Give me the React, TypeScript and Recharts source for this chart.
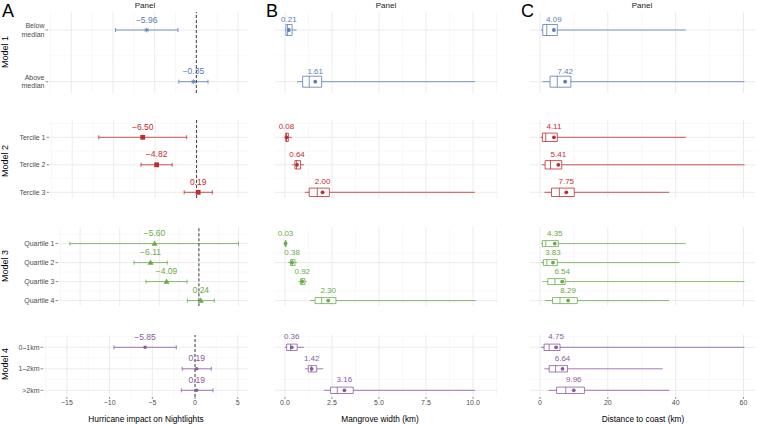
import React from "react";
import {
  ScatterChart,
  Scatter,
  XAxis,
  YAxis,
  CartesianGrid,
  ErrorBar,
  ReferenceLine,
  ReferenceArea,
} from "recharts";

// ---------------- DATA ----------------
const MODEL_NAMES = ["Model 1", "Model 2", "Model 3", "Model 4"];
const CATEGORIES = [
  ["Below\nmedian", "Above\nmedian"],
  ["Tercile 1", "Tercile 2", "Tercile 3"],
  ["Quartile 1", "Quartile 2", "Quartile 3", "Quartile 4"],
  ["0\u20131km", "1\u20132km", ">2km"],
];

// Panel A: hurricane impact estimates with confidence intervals
const IMPACT_ESTIMATE = [
  [-5.96, -0.35],
  [-6.5, -4.82, 0.19],
  [-5.6, -6.11, -4.09, 0.24],
  [-5.85, 0.19, 0.19],
];
const IMPACT_CI_LOW = [
  [-9.7, -2.1],
  [-11.8, -6.7, -1.5],
  [-16.3, -8.2, -6.7, -1.45],
  [-9.5, -1.5, -1.6],
];
const IMPACT_CI_HIGH = [
  [-2.2, 1.4],
  [-1.2, -2.95, 1.9],
  [5.0, -4.0, -1.5, 1.95],
  [-2.2, 1.9, 2.1],
];

// Panel B: mangrove width (km) box plots
const MANGROVE_MEAN = [[0.21, 1.61], [0.08, 0.64, 2.0], [0.03, 0.38, 0.92, 2.3], [0.36, 1.42, 3.16]];
const MANGROVE_MIN = [[0.0, 0.65], [0.0, 0.39, 1.06], [0.0, 0.16, 0.71, 1.33], [0.0, 1.06, 2.07]];
const MANGROVE_Q1 = [[0.05, 0.94], [0.04, 0.53, 1.29], [0.01, 0.3, 0.83, 1.6], [0.09, 1.24, 2.43]];
const MANGROVE_MEDIAN = [[0.14, 1.29], [0.08, 0.62, 1.72], [0.03, 0.38, 0.9, 1.95], [0.3, 1.4, 2.78]];
const MANGROVE_Q3 = [[0.38, 1.95], [0.18, 0.83, 2.36], [0.06, 0.53, 1.06, 2.71], [0.65, 1.69, 3.63]];
const MANGROVE_MAX = [[0.62, 10.1], [0.36, 1.01, 10.1], [0.1, 0.64, 1.15, 10.16], [1.01, 2.04, 10.1]];

// Panel C: distance to coast (km) box plots
const COAST_MEAN = [[4.09, 7.42], [4.11, 5.41, 7.75], [4.35, 3.83, 6.54, 8.29], [4.75, 6.64, 9.96]];
const COAST_MIN = [[0.3, 0.7], [0.2, 0.5, 1.3], [0.3, 0.3, 0.7, 1.5], [0.3, 1.3, 2.5]];
const COAST_Q1 = [[0.8, 2.95], [0.7, 1.5, 3.4], [0.7, 1.0, 2.3, 3.7], [1.2, 2.7, 4.9]];
const COAST_MEDIAN = [[2.0, 5.1], [1.7, 3.1, 5.7], [1.7, 2.0, 4.4, 5.9], [2.7, 4.6, 7.6]];
const COAST_Q3 = [[5.1, 9.1], [5.1, 6.4, 10.1], [5.4, 5.1, 7.4, 11.0], [5.9, 8.1, 13.1]];
const COAST_MAX = [[43, 60.3], [43, 60.3, 38.1], [43, 41.1, 60.3, 38.1], [60.3, 36.2, 38.1]];

// Tick values
const IMPACT_TICKS = [-15, -10, -5, 0, 5];
const IMPACT_MINOR = [-17.5, -12.5, -7.5, -2.5, 2.5];
const MANGROVE_TICKS = [0, 2.5, 5, 7.5, 10];
const MANGROVE_MINOR = [1.25, 3.75, 6.25, 8.75, 11.25];
const COAST_TICKS = [0, 20, 40, 60];
const COAST_MINOR = [10, 30, 50];

// ---------------- STYLE / LAYOUT ----------------
const FONT = '"Liberation Sans", Arial, Helvetica, sans-serif';
const MODEL_COLORS = ["#5b7db1", "#bf2c2f", "#6aaa4c", "#8c5aa0"];
const ROW_TOP = [12, 120, 226.7, 335];
const ROW_BOTTOM = [93, 198, 306, 397];
const ROW_FIRST = [30, 137.3, 243.3, 347.3];
const ROW_STEP = [51.7, 27.5, 19, 21.5];
const BOX_HALF_PX = [5.5, 4.2, 3, 3.2];
const A_LEFT = [48, 49, 58, 43];
const A_RIGHT = 248;
const A_DOMAIN: [number, number] = [-17.8, 6.2];
const B_LEFT = 275;
const B_RIGHT = 498;
const B_DOMAIN: [number, number] = [-0.53, 11.33];
const C_LEFT = 530;
const C_RIGHT = 755;
const C_DOMAIN: [number, number] = [-2.95, 63.4];
const AXIS_H = 12;
const TOP_PAD = 12;
const GRID_MAJOR = "#ebebeb";
const GRID_MINOR = "#f3f3f3";
const TEXT_GREY = "#4d4d4d";

const minus = (v: number, digits?: number) => {
  const s = digits === undefined ? String(Math.abs(v)) : Math.abs(v).toFixed(digits);
  return (v < 0 ? "\u2212" : "") + s;
};

function yDomain(r: number): [number, number] {
  const n = CATEGORIES[r].length;
  const step = ROW_STEP[r];
  const lo = -(ROW_FIRST[r] - ROW_TOP[r]) / step;
  const last = ROW_FIRST[r] + (n - 1) * step;
  const hi = n - 1 + (ROW_BOTTOM[r] - last) / step;
  return [lo, hi];
}
const idx = (n: number) => Array.from({ length: n }, (_, i) => i);
const minorY = (n: number, dom: [number, number]) =>
  Array.from({ length: n + 1 }, (_, i) => i - 0.5).filter((v) => v > dom[0] && v < dom[1]);

function CatTick(props: any) {
  const { x, y, payload, labels } = props;
  const text: string = labels[payload.value] ?? "";
  const lines = text.split("\n");
  const lh = 8.3;
  const y0 = y - ((lines.length - 1) * lh) / 2 + 2.5;
  return (
    <text x={x} y={y0} textAnchor="end" fontSize={7} fill={TEXT_GREY} fontFamily={FONT}>
      {lines.map((l, k) => (
        <tspan key={k} x={x} y={y0 + k * lh}>
          {l}
        </tspan>
      ))}
    </text>
  );
}

function markerShape(r: number, color: string) {
  return (p: any) => {
    const { cx, cy, payload } = p;
    let mark: React.ReactNode = null;
    if (r === 0) {
      const s = 2.4;
      const d = s * 0.707;
      mark = (
        <g stroke={color} strokeWidth={0.8}>
          <line x1={cx - s} y1={cy} x2={cx + s} y2={cy} />
          <line x1={cx} y1={cy - s} x2={cx} y2={cy + s} />
          <line x1={cx - d} y1={cy - d} x2={cx + d} y2={cy + d} />
          <line x1={cx - d} y1={cy + d} x2={cx + d} y2={cy - d} />
        </g>
      );
    } else if (r === 1) {
      mark = <rect x={cx - 2.4} y={cy - 2.4} width={4.8} height={4.8} fill={color} />;
    } else if (r === 2) {
      mark = <polygon points={`${cx},${cy - 3} ${cx - 3},${cy + 2.2} ${cx + 3},${cy + 2.2}`} fill={color} />;
    } else {
      mark = <circle cx={cx} cy={cy} r={1.8} fill={color} />;
    }
    return (
      <g>
        {mark}
        <text x={cx} y={cy - 7.5} textAnchor="middle" fontSize={8.5} fill={color} fontFamily={FONT}>
          {payload.label}
        </text>
      </g>
    );
  };
}

function meanShape(color: string) {
  return (p: any) => {
    const { cx, cy, payload } = p;
    return (
      <g>
        <circle cx={cx} cy={cy} r={1.9} fill={color} />
        <text x={cx} y={cy - 8} textAnchor="middle" fontSize={8} fill={color} fontFamily={FONT}>
          {payload.label}
        </text>
      </g>
    );
  };
}
const emptyShape = () => <g />;

function ImpactRow({ r }: { r: number }) {
  const cats = CATEGORIES[r];
  const n = cats.length;
  const dom = yDomain(r);
  const last = r === 3;
  const top = ROW_TOP[r] - TOP_PAD;
  const h = ROW_BOTTOM[r] - ROW_TOP[r] + TOP_PAD + (last ? AXIS_H : 0);
  const color = MODEL_COLORS[r];
  const data = cats.map((_, i) => {
    const e = IMPACT_ESTIMATE[r][i];
    return {
      y: i,
      x: e,
      err: [e - IMPACT_CI_LOW[r][i], IMPACT_CI_HIGH[r][i] - e],
      label: minus(e, 2),
    };
  });
  return (
    <div style={{ position: "absolute", left: 0, top }}>
      <ScatterChart width={A_RIGHT} height={h} margin={{ top: TOP_PAD, right: 0, bottom: 0, left: 0 }}>
        <CartesianGrid
          verticalValues={IMPACT_MINOR}
          horizontalValues={minorY(n, dom)}
          stroke={GRID_MINOR}
          strokeWidth={0.6}
        />
        <CartesianGrid verticalValues={IMPACT_TICKS} horizontalValues={idx(n)} stroke={GRID_MAJOR} strokeWidth={1} />
        <XAxis
          type="number"
          dataKey="x"
          domain={A_DOMAIN}
          ticks={IMPACT_TICKS}
          interval={0}
          hide={!last}
          height={last ? AXIS_H : 0}
          axisLine={false}
          tickSize={2}
          tickMargin={1}
          tickLine={{ stroke: "#444", strokeWidth: 0.6 }}
          tick={{ fontSize: 7, fill: TEXT_GREY, fontFamily: FONT }}
          tickFormatter={(v: number) => minus(v)}
        />
        <YAxis
          type="number"
          dataKey="y"
          domain={dom}
          reversed
          ticks={idx(n)}
          interval={0}
          width={A_LEFT[r]}
          axisLine={false}
          tickSize={2.5}
          tickMargin={1}
          tickLine={{ stroke: "#444", strokeWidth: 0.6 }}
          tick={<CatTick labels={cats} />}
        />
        <Scatter data={data} isAnimationActive={false} shape={markerShape(r, color)}>
          <ErrorBar dataKey="err" direction="x" width={2} stroke={color} strokeWidth={0.8} />
        </Scatter>
        <ReferenceLine x={0} stroke="#111" strokeDasharray="3 2" strokeWidth={0.8} />
      </ScatterChart>
    </div>
  );
}

type BoxSet = {
  mean: number[][];
  min: number[][];
  q1: number[][];
  median: number[][];
  q3: number[][];
  max: number[][];
};

function BoxRow({
  r,
  left,
  right,
  domain,
  ticks,
  minor,
  fmt,
  set,
}: {
  r: number;
  left: number;
  right: number;
  domain: [number, number];
  ticks: number[];
  minor: number[];
  fmt: (v: number) => string;
  set: BoxSet;
}) {
  const cats = CATEGORIES[r];
  const n = cats.length;
  const dom = yDomain(r);
  const last = r === 3;
  const top = ROW_TOP[r] - TOP_PAD;
  const h = ROW_BOTTOM[r] - ROW_TOP[r] + TOP_PAD + (last ? AXIS_H : 0);
  const color = MODEL_COLORS[r];
  const hw = BOX_HALF_PX[r] / ROW_STEP[r];
  const lower = cats.map((_, i) => ({ y: i, x: set.q1[r][i], err: [set.q1[r][i] - set.min[r][i], 0] }));
  const upper = cats.map((_, i) => ({ y: i, x: set.q3[r][i], err: [0, set.max[r][i] - set.q3[r][i]] }));
  const means = cats.map((_, i) => ({ y: i, x: set.mean[r][i], label: set.mean[r][i].toFixed(2) }));
  return (
    <div style={{ position: "absolute", left, top }}>
      <ScatterChart width={right - left} height={h} margin={{ top: TOP_PAD, right: 0, bottom: 0, left: 0 }}>
        <CartesianGrid verticalValues={minor} horizontalValues={minorY(n, dom)} stroke={GRID_MINOR} strokeWidth={0.6} />
        <CartesianGrid verticalValues={ticks} horizontalValues={idx(n)} stroke={GRID_MAJOR} strokeWidth={1} />
        <XAxis
          type="number"
          dataKey="x"
          domain={domain}
          ticks={ticks}
          interval={0}
          hide={!last}
          height={last ? AXIS_H : 0}
          axisLine={false}
          tickSize={2}
          tickMargin={1}
          tickLine={{ stroke: "#444", strokeWidth: 0.6 }}
          tick={{ fontSize: 7, fill: TEXT_GREY, fontFamily: FONT }}
          tickFormatter={fmt}
        />
        <YAxis type="number" dataKey="y" domain={dom} reversed ticks={idx(n)} hide width={0} />
        <Scatter data={lower} isAnimationActive={false} shape={emptyShape}>
          <ErrorBar dataKey="err" direction="x" width={0} stroke={color} strokeWidth={0.8} />
        </Scatter>
        <Scatter data={upper} isAnimationActive={false} shape={emptyShape}>
          <ErrorBar dataKey="err" direction="x" width={0} stroke={color} strokeWidth={0.8} />
        </Scatter>
        {cats.map((_, i) => (
          <ReferenceArea
            key={"box" + i}
            x1={set.q1[r][i]}
            x2={set.q3[r][i]}
            y1={i - hw}
            y2={i + hw}
            fill="#ffffff"
            fillOpacity={1}
            stroke={color}
            strokeWidth={0.8}
            ifOverflow="visible"
          />
        ))}
        {cats.map((_, i) => (
          <ReferenceLine
            key={"med" + i}
            segment={[
              { x: set.median[r][i], y: i - hw },
              { x: set.median[r][i], y: i + hw },
            ]}
            stroke={color}
            strokeWidth={0.8}
            ifOverflow="visible"
          />
        ))}
        <Scatter data={means} isAnimationActive={false} shape={meanShape(color)} />
      </ScatterChart>
    </div>
  );
}

const MANGROVE_SET: BoxSet = {
  mean: MANGROVE_MEAN,
  min: MANGROVE_MIN,
  q1: MANGROVE_Q1,
  median: MANGROVE_MEDIAN,
  q3: MANGROVE_Q3,
  max: MANGROVE_MAX,
};
const COAST_SET: BoxSet = {
  mean: COAST_MEAN,
  min: COAST_MIN,
  q1: COAST_Q1,
  median: COAST_MEDIAN,
  q3: COAST_Q3,
  max: COAST_MAX,
};

const MODEL_CENTER = [52, 161, 266, 364];

export default function App() {
  return (
    <div
      style={{
        position: "absolute",
        left: 0,
        top: 0,
        width: 757,
        height: 424,
        background: "#fff",
        fontFamily: FONT,
        overflow: "hidden",
      }}
    >
      {[0, 1, 2, 3].map((r) => (
        <ImpactRow key={"a" + r} r={r} />
      ))}
      {[0, 1, 2, 3].map((r) => (
        <BoxRow
          key={"b" + r}
          r={r}
          left={B_LEFT}
          right={B_RIGHT}
          domain={B_DOMAIN}
          ticks={MANGROVE_TICKS}
          minor={MANGROVE_MINOR}
          fmt={(v) => v.toFixed(1)}
          set={MANGROVE_SET}
        />
      ))}
      {[0, 1, 2, 3].map((r) => (
        <BoxRow
          key={"c" + r}
          r={r}
          left={C_LEFT}
          right={C_RIGHT}
          domain={C_DOMAIN}
          ticks={COAST_TICKS}
          minor={COAST_MINOR}
          fmt={(v) => String(v)}
          set={COAST_SET}
        />
      ))}
      <svg
        width={757}
        height={424}
        style={{ position: "absolute", left: 0, top: 0, pointerEvents: "none" }}
        fontFamily={FONT}
      >
        <text x={2} y={16.5} fontSize={18} fill="#000">A</text>
        <text x={266} y={16.5} fontSize={18} fill="#000">B</text>
        <text x={521} y={16.5} fontSize={18} fill="#000">C</text>
        <text x={145} y={8} fontSize={8} textAnchor="middle" fill="#1a1a1a">Panel</text>
        <text x={386} y={8} fontSize={8} textAnchor="middle" fill="#1a1a1a">Panel</text>
        <text x={642} y={8} fontSize={8} textAnchor="middle" fill="#1a1a1a">Panel</text>
        {MODEL_NAMES.map((m, r) => (
          <text
            key={m}
            transform={`translate(7.5,${MODEL_CENTER[r]}) rotate(-90)`}
            textAnchor="middle"
            fontSize={9}
            fill="#000"
          >
            {m}
          </text>
        ))}
        <text x={146} y={422} fontSize={8.3} textAnchor="middle" fill="#000">Hurricane impact on Nightlights</text>
        <text x={380} y={422} fontSize={8.3} textAnchor="middle" fill="#000">Mangrove width (km)</text>
        <text x={643} y={422} fontSize={8.3} textAnchor="middle" fill="#000">Distance to coast (km)</text>
      </svg>
    </div>
  );
}
